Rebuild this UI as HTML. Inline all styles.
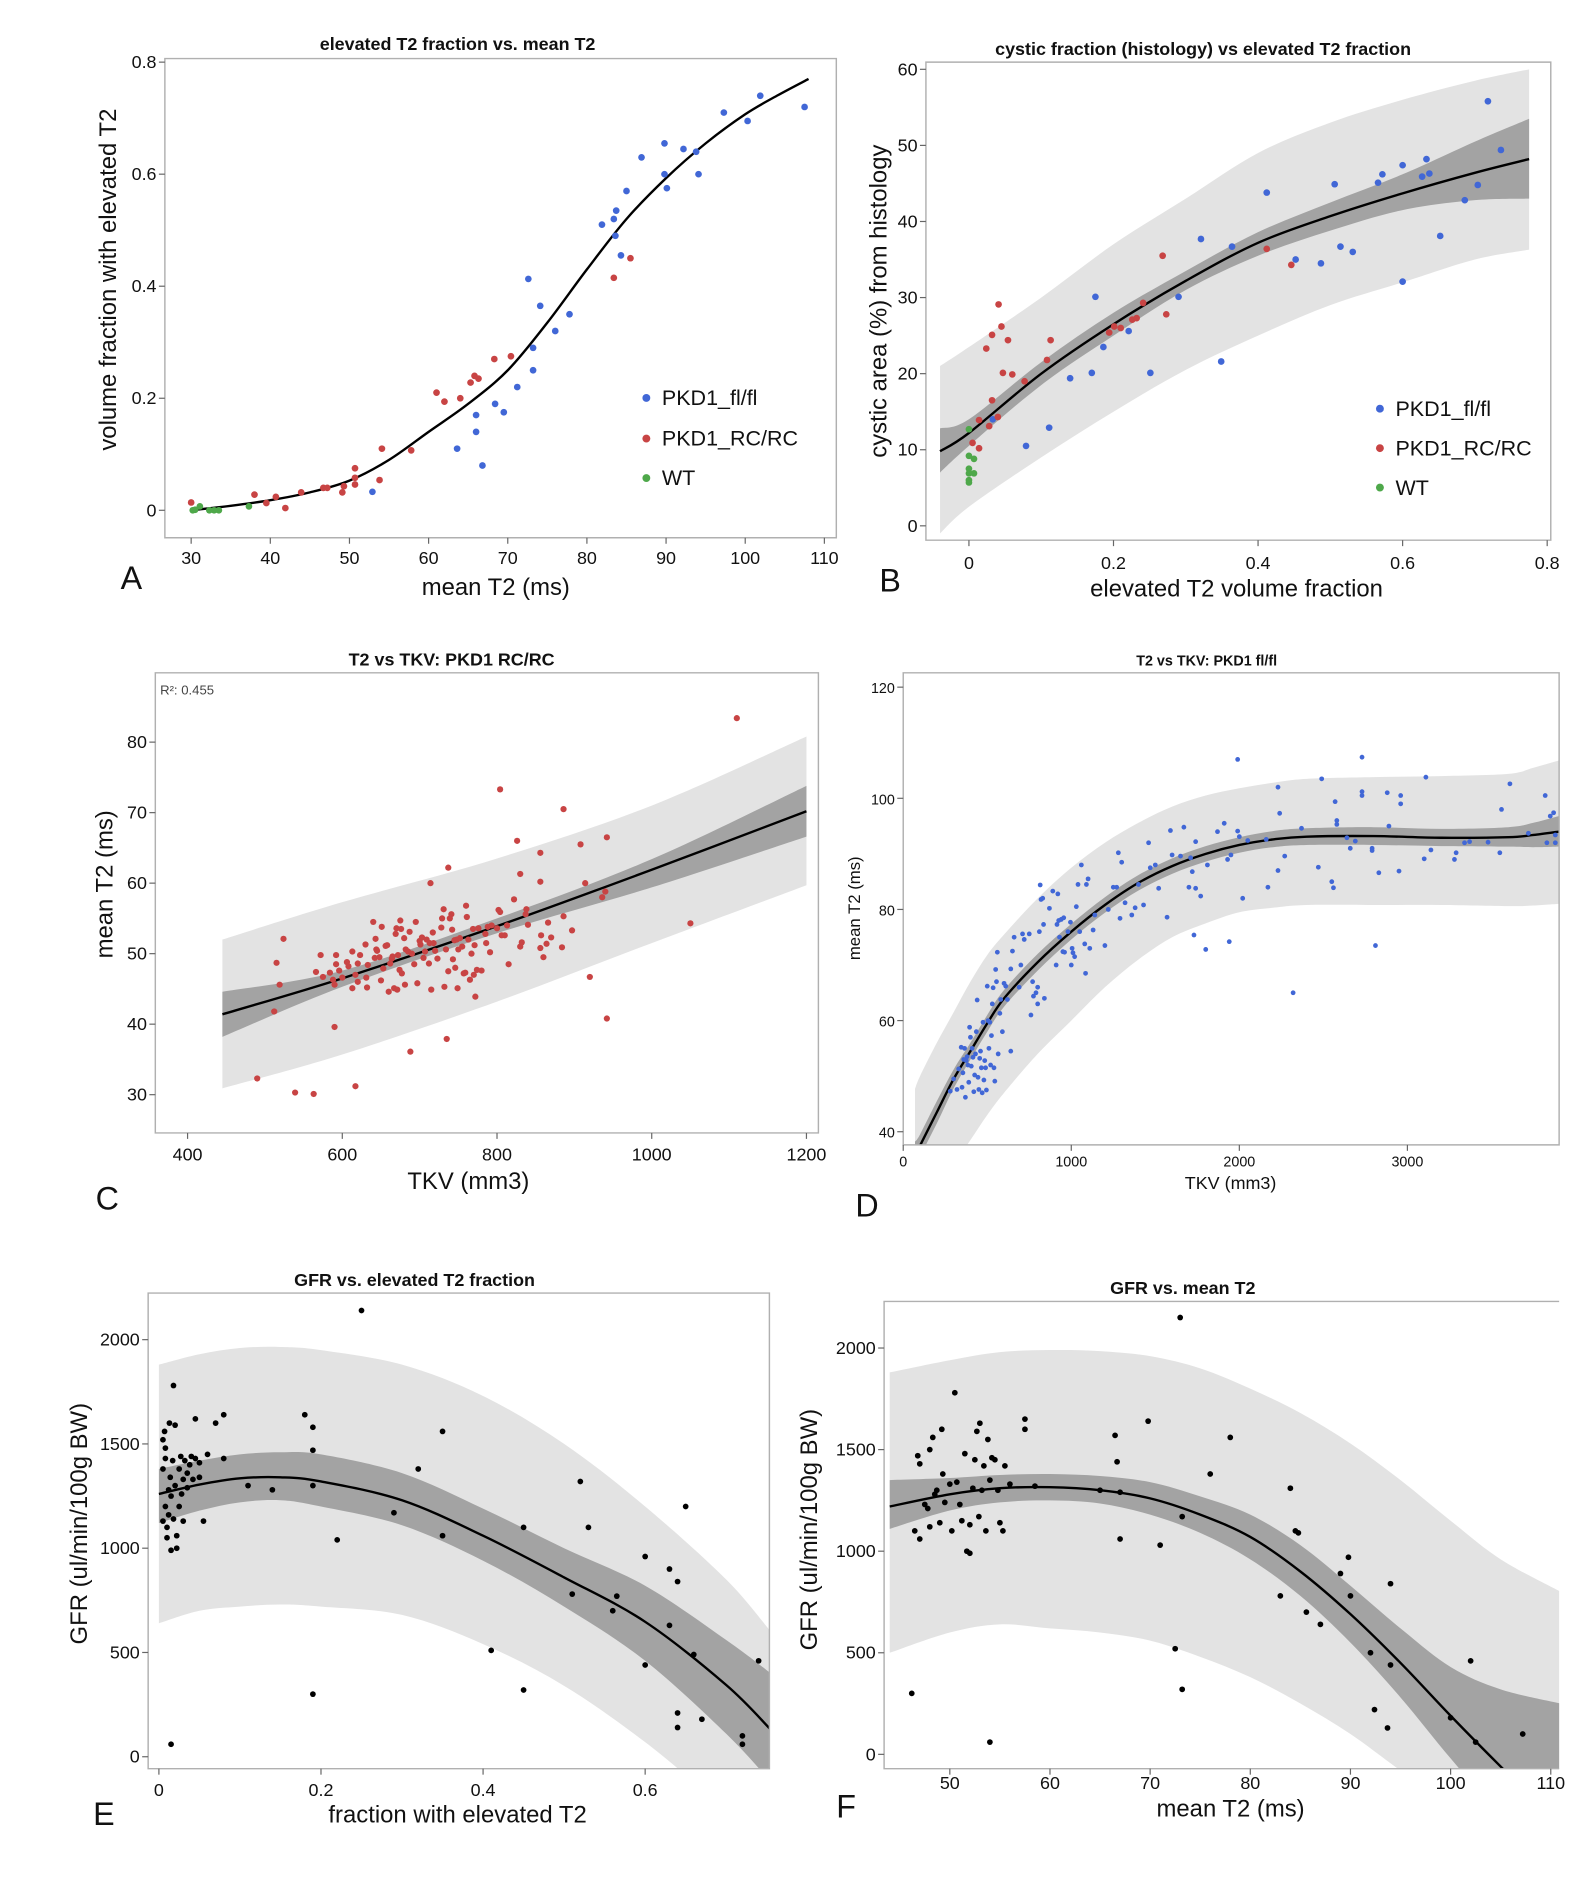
<!DOCTYPE html>
<html><head><meta charset="utf-8">
<style>
html,body{margin:0;padding:0;background:#fff;}
svg{display:block;}
text{font-family:"Liberation Sans",sans-serif;fill:#111;}
.tk{font-size:15px;}
.tt{font-size:15px;font-weight:bold;}
.al{font-size:20px;}
.pl{font-size:27px;}
</style></head>
<body>
<svg id="fig" width="1589" height="1887" viewBox="0 0 1330 1579" preserveAspectRatio="none" xmlns="http://www.w3.org/2000/svg">
<g id="layer"></g>
<text class="tt" x="383" y="42" text-anchor="middle">elevated T2 fraction vs. mean T2</text>
<text class="al" x="415" y="498" text-anchor="middle">mean T2 (ms)</text>
<text class="al" transform="translate(97,234) rotate(-90)" text-anchor="middle">volume fraction with elevated T2</text>
<text class="pl" x="101" y="493">A</text>

<text class="tt" x="1007" y="46" text-anchor="middle">cystic fraction (histology) vs elevated T2 fraction</text>
<text class="al" x="1035" y="499" text-anchor="middle">elevated T2 volume fraction</text>
<text class="al" transform="translate(742,252) rotate(-90)" text-anchor="middle">cystic area (%) from histology</text>
<text class="pl" x="736" y="495">B</text>

<text class="tt" x="378" y="557" text-anchor="middle">T2 vs TKV: PKD1 RC/RC</text>
<text x="134" y="581" style="font-size:11px;fill:#444">R²: 0.455</text>
<text class="al" x="392" y="995" text-anchor="middle">TKV (mm3)</text>
<text class="al" transform="translate(94,740) rotate(-90)" text-anchor="middle">mean T2 (ms)</text>
<text class="pl" x="80" y="1012">C</text>

<text x="1010" y="557" text-anchor="middle" style="font-size:12px;font-weight:bold">T2 vs TKV: PKD1 fl/fl</text>
<text x="1030" y="995" text-anchor="middle" style="font-size:15px">TKV (mm3)</text>
<text transform="translate(720,760) rotate(-90)" text-anchor="middle" style="font-size:14px">mean T2 (ms)</text>
<text class="pl" x="716" y="1018">D</text>

<text class="tt" x="347" y="1076" text-anchor="middle">GFR vs. elevated T2 fraction</text>
<text class="al" x="383" y="1525" text-anchor="middle">fraction with elevated T2</text>
<text class="al" transform="translate(73,1275) rotate(-90)" text-anchor="middle">GFR (ul/min/100g BW)</text>
<text class="pl" x="78" y="1527">E</text>

<text class="tt" x="990" y="1083" text-anchor="middle">GFR vs. mean T2</text>
<text class="al" x="1030" y="1520" text-anchor="middle">mean T2 (ms)</text>
<text class="al" transform="translate(684,1280) rotate(-90)" text-anchor="middle">GFR (ul/min/100g BW)</text>
<text class="pl" x="700" y="1521">F</text>
</svg>
<script>
// ---------- Panel A data ----------
const aBlueX=[52.9,63.6,66,66,66.8,68.4,69.5,71.2,72.6,73.2,73.2,74.1,76,77.8,81.9,83.4,83.7,83.6,84.3,85,86.9,89.8,89.8,90.1,92.2,93.8,94.1,97.3,100.3,101.9,107.5];
const aBlueY=[0.033,0.11,0.17,0.14,0.08,0.19,0.175,0.22,0.413,0.29,0.25,0.365,0.32,0.35,0.51,0.52,0.535,0.49,0.455,0.57,0.63,0.655,0.6,0.575,0.645,0.64,0.6,0.71,0.695,0.74,0.72];
const aRedX=[30,38,39.5,40.7,41.9,43.9,46.7,47.2,49.1,49.3,50.7,50.7,50.7,53.8,54.1,57.8,61,62,64,65.3,65.8,66.3,68.3,70.4,83.4,85.5];
const aRedY=[0.014,0.028,0.013,0.024,0.004,0.032,0.04,0.04,0.032,0.043,0.075,0.058,0.046,0.054,0.11,0.107,0.21,0.194,0.2,0.228,0.24,0.235,0.27,0.275,0.415,0.45];
const aGreenX=[30.2,31.1,32.3,32.9,33.5,37.3,30.5];
const aGreenY=[0,0.007,0,0,0,0.007,0.001];
const aFitX=[30,35,40,45,50,55,60,65,70,75,80,85,90,95,100,104,108];
const aFitY=[0,0.008,0.018,0.032,0.053,0.09,0.14,0.19,0.25,0.335,0.43,0.52,0.593,0.655,0.707,0.74,0.77];
const aXTicks=[30,40,50,60,70,80,90,100,110];
const aYTicks=[0,0.2,0.4,0.6,0.8];
const aLegend=["PKD1_fl/fl","PKD1_RC/RC","WT"];

// ---------- Panel B data ----------
const bBlueX=[0.033,0.079,0.111,0.14,0.17,0.175,0.186,0.221,0.251,0.29,0.321,0.349,0.364,0.412,0.452,0.487,0.506,0.514,0.531,0.566,0.572,0.6,0.6,0.627,0.633,0.637,0.652,0.686,0.704,0.718,0.736];
const bBlueY=[14,10.5,12.9,19.4,20.1,30.1,23.5,25.6,20.1,30.1,37.7,21.6,36.7,43.8,35,34.5,44.9,36.7,36,45.1,46.2,47.4,32.1,45.9,48.2,46.3,38.1,42.8,44.8,55.8,49.4];
const bRedX=[0.005,0.014,0.014,0.024,0.028,0.032,0.032,0.04,0.041,0.045,0.047,0.054,0.06,0.077,0.108,0.113,0.194,0.201,0.21,0.226,0.232,0.241,0.268,0.273,0.412,0.446];
const bRedY=[10.9,13.9,10.2,23.3,13.1,25.1,16.5,14.3,29.1,26.2,20.1,24.4,19.9,19,21.8,24.4,25.4,26.2,26,27.1,27.3,29.3,35.5,27.8,36.4,34.3];
const bGreenX=[0,0,0.007,0,0,0.007,0,0];
const bGreenY=[12.7,9.2,8.8,7.5,6.9,6.9,6.0,5.7];
const bBandX=[-0.04,0,0.1,0.2,0.3,0.4,0.5,0.6,0.7,0.775];
const bFitY=[9.8,12.2,20,26.5,32.2,37.2,40.7,43.7,46.4,48.2];
const bDarkLo=[7,10.5,18.5,25,31,35.5,38.8,41.5,42.8,43];
const bDarkHi=[12.8,14,21.5,28,33.5,38.6,42.5,46.2,50.5,53.5];
const bLightLo=[-1,2.5,9,15,20.5,25,29,32,35,36.3];
const bLightHi=[21,23.5,30,37,43,49,53,56,58.5,60];
const bXTicks=[0,0.2,0.4,0.6,0.8];
const bYTicks=[0,10,20,30,40,50,60];

// ---------- Panel C data ----------
const cX=[1110,804,886,942,826,908,856,737,830,714,856,914,936,940,1050,920,942,735,688,490,539,563,617,590,512,515,519,524,
566,572,575,584,588,590,592,592,596,600,606,608,613,613,617,620,620,623,630,631,632,633,640,642,643,644,645,648,650,651,653,656,658,660,662,664,665,667,669,670,671,672,674,675,676,677,680,681,682,685,687,690,693,695,697,700,701,703,705,707,709,712,713,715,717,718,720,723,728,729,731,732,734,737,739,741,742,743,745,746,748,749,750,752,755,757,759,760,761,763,765,767,769,770,771,772,774,776,780,785,786,788,791,793,800,802,804,806,810,813,815,822,830,832,837,838,840,856,857,860,864,866,870,884,886,897];
const cY=[83.4,73.3,70.5,66.5,66,65.5,64.3,62.2,61.3,60,60.2,60,58,58.8,54.3,46.7,40.8,37.9,36.1,32.3,30.3,30.1,31.2,39.6,41.8,48.7,45.6,52.1,
47.4,49.8,46.7,47.3,46.3,45.6,49.8,48.5,47.6,46.6,48.8,48.2,45.1,50.3,47,48.6,46,49.8,51.3,46.6,45.2,48.4,54.5,49.4,52.1,50.6,50.4,49.5,46.2,53.8,47.9,51.1,51.2,44.6,48.6,49.3,49.6,45.1,52.8,53.6,44.9,49.8,47.7,54.7,53.5,47.2,52.2,45.6,50.6,50.3,53.1,50,48.5,54.5,45.8,51.8,51.3,52.3,49.4,50.3,52,48.6,51.5,44.9,53,51.5,50.4,49.3,53.7,55,56.3,45.3,50.6,47.5,55,55.6,53.4,49.2,51.9,48,52,45.1,50.6,52.2,51,47.2,47.3,56.8,55.2,52,46.3,50,53.5,47,51.2,43.9,47.7,53.6,47.6,52.8,51.5,53.8,50.2,54,53.6,56.2,55.9,52.6,52.6,54,48.5,57.7,51,51.6,55.6,56.3,54.1,50.8,52.6,49.5,51.4,54.4,52.3,50.9,55.3,53.3];
const cBandX=[445,600,800,1000,1200];
const cFitY=[41.4,46.5,53.9,61.9,70.2];
const cDarkLo=[38.2,45.3,52.9,59.4,66.6];
const cDarkHi=[44.6,47.6,55,63.4,73.8];
const cLightLo=[30.9,35.7,43.2,51.5,59.7];
const cLightHi=[52,57.3,63.5,71,80.8];
const cXTicks=[400,600,800,1000,1200];
const cYTicks=[30,40,50,60,70,80];

// ---------- Panel D data ----------
const dX=[280,300,320,330,345,350,355,360,365,370,375,380,385,390,395,400,405,410,415,420,425,430,435,440,445,450,455,460,465,470,475,480,485,490,495,500,505,510,515,520,525,530,535,540,545,550,555,560,565,575,580,590,600,610,620,640,640,650,660,690,700,710,720,750,760,770,775,790,800,800,810,815,820,830,835,840,870,890,910,915,920,925,930,940,950,955,960,980,995,1000,1005,1010,1020,1030,1040,1050,1060,1080,1085,1090,1100,1110,1130,1140,1200,1220,1250,1270,1280,1290,1300,1320,1360,1380,1400,1430,1460,1470,1500,1520,1570,1590,1600,1650,1670,1700,1710,1720,1730,1740,1740,1770,1800,1810,1870,1910,1940,1930,1950,1990,1990,2000,2020,2050,2160,2170,2230,2240,2230,2270,2370,2320,2470,2490,2550,2560,2570,2580,2580,2640,2660,2690,2730,2730,2730,2790,2790,2810,2830,2880,2890,2950,2960,2960,3100,3110,3140,3280,3290,3340,3370,3480,3550,3560,3610,3720,3820,3830,3850,3870,3880,3880];
const dY=[47.3,49.5,47.6,51.3,55.2,48,50.6,53,55,46.2,52.8,53.5,52,48.9,58.8,57,51.8,55,53.4,47.2,50.2,54,58,63.7,49.8,47.6,53.2,54.5,51.5,47,59.7,49.3,52.8,51.5,47.5,66.2,60,55,59.7,52,57.3,63,65.9,51.5,49.1,69.2,67,72.3,54,61.3,63.8,58,66.7,66.2,63.8,69.3,54.5,72.5,75,66,70,75.6,74.6,75.6,61,67,64.4,65,63,66,76,84.4,81.8,82,77.3,64,80.2,83.3,70,77.3,82.8,78,75,78.2,72.4,78.5,72.3,76,77.7,70,73,72.2,71.5,80.5,84.5,76,88,73.8,68.5,84.5,85.5,73,76.3,79,73.5,80,84,84,90.2,78.4,88.5,81.2,79,80.3,84.5,80.8,92,87.5,88,83.8,78.6,94.2,89.8,89.6,94.8,84,89.3,86.8,75.4,92.2,83.8,82.4,72.8,88,94,95.5,74.2,89,89.8,94.1,107,93.1,82,92.4,92.6,84,102,97.3,87,89.6,94.6,65,87.6,103.5,85,83.9,99.4,96,95.3,92.9,91,92.3,107.4,101.2,100.5,91,90.6,73.5,86.6,101,95,86.9,100.5,99,89.1,103.8,90.7,89,90.2,92,92.2,92.1,90.2,98,102.6,93.7,100.5,92,96.8,97.4,93.4,92];
const dBandX=[70,100,200,300,400,500,600,800,1000,1200,1400,1600,1800,2000,2200,2400,2800,3200,3600,3750,3900];
const dFitY=[35.5,37.5,43.5,49.5,54.5,59.5,64,70.5,76,80.8,84.8,87.8,90,91.6,92.6,93.1,93.2,92.9,93,93.4,94];
const dDarkLo=[33,35.5,41.5,47.8,53,58,62.5,69,74.6,79.4,83.4,86.4,88.6,90.2,91.2,91.6,91.6,91.4,91.3,91.2,91.3];
const dDarkHi=[38.2,39.5,45.5,51.2,56,61,65.5,72,77.4,82.2,86.2,89.2,91.4,93,94.1,94.6,94.8,94.5,94.8,95.6,96.8];
const dLightLo=[20,22,28,34,38.5,43,47,54,60,66,71,75,77.5,79.5,80.3,80.8,80.8,80.8,80.6,80.7,81];
const dLightHi=[47.7,50,56,61.5,67,71.8,75.5,82,87.5,92,95.6,98.5,100.5,101.8,102.8,103.5,103.8,104,104.4,105.5,106.8];
const dXTicks=[0,1000,2000,3000];
const dYTicks=[40,60,80,100,120];

// ---------- Panel E data ----------
const eX=[0.005,0.005,0.005,0.007,0.008,0.008,0.008,0.01,0.01,0.012,0.012,0.013,0.014,0.015,0.015,0.017,0.018,0.018,0.02,0.02,0.022,0.022,0.025,0.025,0.027,0.028,0.03,0.03,0.032,0.035,0.035,0.038,0.04,0.042,0.045,0.045,0.05,0.05,0.055,0.06,0.07,0.08,0.08,0.11,0.14,0.18,0.19,0.19,0.19,0.19,0.22,0.25,0.29,0.32,0.35,0.35,0.41,0.45,0.45,0.51,0.52,0.53,0.56,0.565,0.6,0.6,0.63,0.63,0.64,0.64,0.64,0.65,0.66,0.67,0.72,0.72,0.74,0.015];
const eY=[1130,1380,1520,1560,1430,1480,1200,1050,1100,1160,1280,1600,1340,990,1250,1420,1780,1140,1590,1300,1060,1000,1200,1380,1440,1260,1330,1130,1420,1360,1290,1400,1440,1330,1620,1430,1410,1340,1130,1450,1600,1640,1430,1300,1280,1640,1580,1470,1300,300,1040,2140,1170,1380,1560,1060,510,1100,320,780,1320,1100,700,770,960,440,900,630,210,140,840,1200,490,180,100,60,460,60];
const eBandX=[0,0.05,0.1,0.15,0.2,0.3,0.4,0.5,0.6,0.7,0.755];
const eFitY=[1260,1305,1335,1340,1320,1230,1060,860,647,344,130];
const eDarkLo=[1120,1180,1220,1230,1200,1110,940,720,460,110,-120];
const eDarkHi=[1380,1420,1450,1460,1450,1360,1190,1000,820,560,400];
const eLightLo=[640,700,720,730,720,680,540,340,70,-250,-400];
const eLightHi=[1880,1930,1960,1965,1950,1880,1730,1500,1200,850,600];
const eXTicks=[0,0.2,0.4,0.6];
const eYTicks=[0,500,1000,1500,2000];

// ---------- Panel F data ----------
const fX=[46.5,46.8,47,47,47.5,47.8,48,48,48.3,48.5,48.7,49,49.2,49.3,49.5,50,50.2,50.5,50.7,51,51.2,51.5,51.7,52,52,52.3,52.5,52.7,52.9,53,53.2,53.4,53.6,53.8,54,54.2,54.5,54.8,55,55.3,55.5,56,57.5,57.5,58.5,46.2,54,66.5,66.7,67,67,69.8,71,72.5,73,73.2,73.2,76,78,83,84,84.5,84.8,85.6,87,89,89.8,90,92,92.4,93.7,94,94,100,102,102.5,107.2,65];
const fY=[1100,1470,1060,1430,1230,1210,1500,1120,1560,1280,1300,1140,1600,1380,1240,1330,1100,1780,1340,1230,1150,1480,1000,1130,990,1310,1450,1590,1170,1630,1300,1420,1100,1550,1350,1460,1450,1300,1140,1100,1420,1330,1650,1600,1320,300,60,1570,1440,1060,1290,1640,1030,520,2150,1170,320,1380,1560,780,1310,1100,1090,700,640,890,970,780,500,220,130,840,440,180,460,60,100,1300];
const fBandX=[44,50,55,60,65,70,75,80,85,90,95,100,105,111];
const fFitY=[1220,1280,1310,1315,1300,1260,1180,1070,900,690,450,190,-60,-350];
const fDarkLo=[1110,1200,1240,1250,1235,1180,1090,960,780,550,280,-20,-300,-600];
const fDarkHi=[1350,1360,1375,1380,1370,1340,1270,1180,1030,830,620,430,320,250];
const fLightLo=[500,600,640,620,600,560,480,380,250,100,-80,-250,-400,-500];
const fLightHi=[1880,1940,1980,1990,1985,1960,1900,1800,1680,1530,1350,1150,960,800];
const fXTicks=[50,60,70,80,90,100,110];
const fYTicks=[0,500,1000,1500,2000];

// ---------- rendering ----------
const NS='http://www.w3.org/2000/svg';
const layer=document.getElementById('layer');
function mk(tag,attrs,parent){const e=document.createElementNS(NS,tag);for(const k in attrs)e.setAttribute(k,attrs[k]);(parent||layer).appendChild(e);return e;}
function lin(v0,p0,v1,p1){return v=>p0+(v-v0)*(p1-p0)/(v1-v0);}
const BLUE='#4167d6',RED='#c84444',GREEN='#4ea84a',BLACK='#000';
// Catmull-Rom smooth path through points (continuing path; 'start' true emits M)
function smooth(pts,start){
  let d=(start?'M':'L')+pts[0][0]+','+pts[0][1];
  for(let i=0;i<pts.length-1;i++){
    const p0=pts[i-1]||pts[i],p1=pts[i],p2=pts[i+1],p3=pts[i+2]||p2;
    const c1=[p1[0]+(p2[0]-p0[0])/6,p1[1]+(p2[1]-p0[1])/6];
    const c2=[p2[0]-(p3[0]-p1[0])/6,p2[1]-(p3[1]-p1[1])/6];
    d+='C'+c1[0]+','+c1[1]+' '+c2[0]+','+c2[1]+' '+p2[0]+','+p2[1];
  }
  return d;
}

function panel(id,P){
  const g=mk('g',{});
  
  
  const [x0,y0,x1,y1]=P.frame;
  const cp=mk('clipPath',{id:'clip-'+id},g);
  mk('rect',{x:x0,y:y0,width:x1-x0,height:y1-y0},cp);
  const plot=mk('g',{'clip-path':'url(#clip-'+id+')'},g);
  
  
  const sx=P.sx,sy=P.sy;
  function area(xs,lo,hi,fill,name){
    const top=xs.map((x,i)=>[sx(x),sy(hi[i])]);
    const bot=xs.map((x,i)=>[sx(x),sy(lo[i])]).reverse();
    const d=smooth(top,true)+smooth(bot,false)+'Z';
    const p=mk('path',{d:d,fill:fill},plot);
    
    
  }
  if(P.band){
    area(P.band.x,P.band.llo,P.band.lhi,'#e3e3e3','prediction-band-'+id);
    area(P.band.x,P.band.dlo,P.band.dhi,'#a3a3a3','confidence-band-'+id);
  }
  if(P.fit){
    const pts=P.fit.x.map((x,i)=>[sx(x),sy(P.fit.y[i])]);
    const l=mk('path',{d:smooth(pts,true),fill:'none',stroke:'#000','stroke-width':2},plot);
    
    
  }
  P.series.forEach(s=>{
    s.x.forEach((x,i)=>{
      const c=mk('circle',{cx:sx(x),cy:sy(s.y[i]),r:P.r,fill:s.color},plot);
      
      
    });
  });
  const fr=mk('path',{d:P.openRight?`M${x1},${y0}H${x0}V${y1}H${x1}`:`M${x0},${y0}H${x1}V${y1}H${x0}Z`,fill:'none',stroke:'#b0b0b0','stroke-width':1.2},g);
  
  
  const fs=P.tickSize||15;
  P.xt.forEach(v=>{
    const px=sx(v);
    const t=mk('line',{x1:px,x2:px,y1:y1,y2:y1+5,stroke:'#666'},g);
    
    
    const tx=mk('text',{x:px,y:P.xLabY,'text-anchor':'middle',style:'font-size:'+fs+'px'},g);
    tx.textContent=String(v);
    
    
  });
  P.yt.forEach(v=>{
    const py=sy(v);
    const t=mk('line',{x1:x0-5,x2:x0,y1:py,y2:py,stroke:'#666'},g);
    
    
    const tx=mk('text',{x:x0-7,y:py+5,'text-anchor':'end',style:'font-size:'+fs+'px'},g);
    tx.textContent=String(v);
    
    
  });
}
function legend(id,xd,ys){
  const cols=[BLUE,RED,GREEN];
  aLegend.forEach((lab,i)=>{
    const c=mk('circle',{cx:xd,cy:ys[i],r:3.3,fill:cols[i]});
    
    
    const t=mk('text',{x:xd+13,y:ys[i]+6,style:'font-size:18px'});
    t.textContent=lab;
    
    
  });
}

panel('a',{frame:[138,49,700,450],sx:lin(30,160,110,690),sy:lin(0,427,0.8,52),r:2.8,
  fit:{x:aFitX,y:aFitY},
  series:[{x:aBlueX,y:aBlueY,color:BLUE,name:'pkd1-fl'},{x:aRedX,y:aRedY,color:RED,name:'pkd1-rc'},{x:aGreenX,y:aGreenY,color:GREEN,name:'wt'}],
  xt:aXTicks,yt:aYTicks,xLabY:472});
legend('a',541,[333,367,400]);

panel('b',{frame:[775,52,1298,452],sx:lin(0,811,0.8,1295),sy:lin(0,440,60,58),r:2.8,
  band:{x:bBandX,dlo:bDarkLo,dhi:bDarkHi,llo:bLightLo,lhi:bLightHi},
  fit:{x:bBandX,y:bFitY},
  series:[{x:bBlueX,y:bBlueY,color:BLUE,name:'pkd1-fl'},{x:bRedX,y:bRedY,color:RED,name:'pkd1-rc'},{x:bGreenX,y:bGreenY,color:GREEN,name:'wt'}],
  xt:bXTicks,yt:bYTicks,xLabY:476});
legend('b',1155,[342,375,408]);

panel('c',{frame:[130,563,685,948],sx:lin(400,157,1200,675),sy:lin(30,916,80,621),r:2.6,
  band:{x:cBandX,dlo:cDarkLo,dhi:cDarkHi,llo:cLightLo,lhi:cLightHi},
  fit:{x:cBandX,y:cFitY},
  series:[{x:cX,y:cY,color:RED,name:'pkd1-rc'}],
  xt:cXTicks,yt:cYTicks,xLabY:971});

panel('d',{frame:[756,563,1305,958],sx:lin(0,756,3000,1178),sy:lin(40,947,120,575),r:2,
  band:{x:dBandX,dlo:dDarkLo,dhi:dDarkHi,llo:dLightLo,lhi:dLightHi},
  fit:{x:dBandX,y:dFitY},
  series:[{x:dX,y:dY,color:BLUE,name:'pkd1-fl'}],
  xt:dXTicks,yt:dYTicks,xLabY:976,tickSize:12});

panel('e',{frame:[124,1082,644,1480],sx:lin(0,133,0.6,540),sy:lin(0,1470,2000,1121),r:2.4,
  band:{x:eBandX,dlo:eDarkLo,dhi:eDarkHi,llo:eLightLo,lhi:eLightHi},
  fit:{x:eBandX,y:eFitY},
  series:[{x:eX,y:eY,color:BLACK,name:'gfr'}],
  xt:eXTicks,yt:eYTicks,xLabY:1503});

panel('f',{frame:[740,1089,1305,1480],sx:lin(50,795,110,1298),sy:lin(0,1468,2000,1128),r:2.4,openRight:true,
  band:{x:fBandX,dlo:fDarkLo,dhi:fDarkHi,llo:fLightLo,lhi:fLightHi},
  fit:{x:fBandX,y:fFitY},
  series:[{x:fX,y:fY,color:BLACK,name:'gfr'}],
  xt:fXTicks,yt:fYTicks,xLabY:1497});
</script>
</body></html>
